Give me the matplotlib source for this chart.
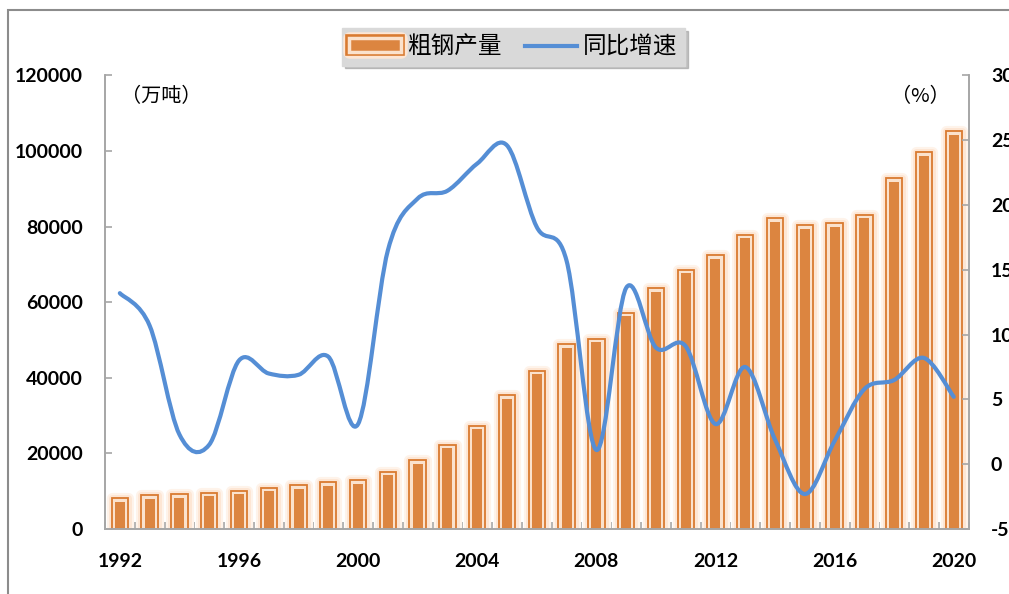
import matplotlib
matplotlib.use("Agg")
import matplotlib.pyplot as plt
import matplotlib.patheffects as pe
from matplotlib.path import Path
from matplotlib.patches import PathPatch, Rectangle
from matplotlib.lines import Line2D
from matplotlib.transforms import ScaledTranslation
import numpy as np

# 数据：粗钢产量（万吨）与同比增速（%）
years = list(range(1992, 2021))
production = [8094, 8956, 9261, 9536, 10124, 10894, 11559, 12426, 12850, 15163,
              18237, 22234, 27280, 35324, 41915, 48929, 50306, 57218, 63723, 68528,
              72388, 77904, 82270, 80383, 80837, 83173, 92826, 99634, 105300]
growth = [13.2, 10.7, 2.3, 1.5, 8.0, 7.0, 6.9, 8.3, 3.1, 16.5,
          20.5, 21.1, 23.2, 24.6, 18.3, 15.7, 1.1, 13.6, 9.0, 9.1,
          3.1, 7.5, 1.9, -2.3, 1.8, 5.8, 6.5, 8.2, 5.2]
left_ticks = [0, 20000, 40000, 60000, 80000, 100000, 120000]
right_ticks = [-5, 0, 5, 10, 15, 20, 25, 30]
label_years = [1992, 1996, 2000, 2004, 2008, 2012, 2016, 2020]

cjk = ['Noto Sans CJK SC', 'DejaVu Sans']
num_font = 'Lato'
bar_color = '#dc8540'
edge_dark = '#d97a30'
border_light = '#fbe2cd'
line_color = '#558ed5'
axis_color = '#a6a6a6'

fig = plt.figure(figsize=(10.09, 5.94), dpi=100)
ax = fig.add_axes([0.104, 0.1094, 0.856, 0.7636])
ax2 = ax.twinx()

# 柱子：外发光 + 深色描边 + 浅色内边 + 深色填充
glow = [
    pe.Stroke(linewidth=8, foreground='#fef3ea', joinstyle='round'),
    pe.Stroke(linewidth=5, foreground='#fde6d4', joinstyle='round'),
    pe.Normal(),
]
x = np.array(years, dtype=float)
ax.bar(x, production, width=0.55, color=border_light, edgecolor=edge_dark,
       linewidth=1.3, path_effects=glow, zorder=2)
inset = ax.transData + ScaledTranslation(0, -3.5 / 100, fig.dpi_scale_trans)
ax.bar(x, production, width=0.335, color=bar_color, linewidth=0,
       transform=inset, zorder=2.1)

ax.set_xlim(1991.5, 2020.5)
ax.set_ylim(0, 120000)
ax2.set_ylim(-5, 30)

# 平滑曲线（类似 Excel 平滑线）
pts = np.column_stack([x, growth])
verts = [pts[0]]
codes = [Path.MOVETO]
n = len(pts)
for i in range(n - 1):
    p0 = pts[max(i - 1, 0)]
    p1 = pts[i]
    p2 = pts[i + 1]
    p3 = pts[min(i + 2, n - 1)]
    c1 = p1 + (p2 - p0) / 6.0
    c2 = p2 - (p3 - p1) / 6.0
    verts += [c1, c2, p2]
    codes += [Path.CURVE4] * 3
curve = PathPatch(Path(verts, codes), facecolor='none', edgecolor=line_color,
                  linewidth=3, capstyle='round', joinstyle='round', zorder=3)
ax2.add_patch(curve)

# 坐标轴样式
for a in (ax, ax2):
    a.spines['top'].set_visible(False)
    for s in ('left', 'right', 'bottom'):
        a.spines[s].set_color(axis_color)
        a.spines[s].set_linewidth(1.2)

ax.set_yticks(left_ticks)
ax.set_yticklabels([str(v) for v in left_ticks])
ax2.set_yticks(right_ticks)
ax2.set_yticklabels([str(v) for v in right_ticks])
ax.set_xticks(label_years)
ax.set_xticklabels([str(v) for v in label_years])
ax.set_xticks(np.arange(1991.5, 2021, 1.0), minor=True)

ax.tick_params(axis='x', which='major', length=0, pad=17)
ax.tick_params(axis='x', which='minor', direction='in', length=5,
               color=axis_color, width=1.2)
ax.tick_params(axis='y', direction='in', length=5, color=axis_color,
               width=1.2, pad=16)
ax2.tick_params(axis='y', direction='in', length=5, color=axis_color,
                width=1.2, pad=16)

for lab in ax.get_xticklabels() + ax.get_yticklabels() + ax2.get_yticklabels():
    lab.set_fontfamily(num_font)
    lab.set_fontweight('bold')
    lab.set_fontsize(14)
    lab.set_color('black')

# 单位
ax.text(0.019, 0.953, '（万吨）', transform=ax.transAxes, family=cjk,
        fontsize=14.5, va='center', ha='left')
ax.text(0.91, 0.953, '（%）', transform=ax.transAxes, family=cjk,
        fontsize=14.5, va='center', ha='left')

# 图例
handle_fx = [
    pe.Stroke(linewidth=9, foreground='#fde6d4', joinstyle='round'),
    pe.Stroke(linewidth=5.5, foreground=edge_dark),
    pe.Normal(),
]
bar_handle = Rectangle((0, 0), 1, 1, facecolor=bar_color, edgecolor=border_light,
                       linewidth=2.5, path_effects=handle_fx)
line_handle = Line2D([], [], color=line_color, linewidth=3)
leg = fig.legend([bar_handle, line_handle], ['粗钢产量', '同比增速'],
                 loc='center', bbox_to_anchor=(0.509, 0.921), ncol=2,
                 prop={'family': cjk, 'size': 17}, frameon=True,
                 fancybox=False, shadow={'color': '#9a9a9a', 'alpha': 0.6},
                 handlelength=2.2, handleheight=0.55, columnspacing=1.0,
                 handletextpad=0.25, borderpad=0.3, borderaxespad=0)
leg.get_frame().set_facecolor('#d9d9d9')
leg.get_frame().set_edgecolor('#d9d9d9')
leg.get_frame().set_alpha(1)

# 图表区外框
fig.patches.append(Rectangle((8 / 1009, -0.1), 1.2, 0.1 + 1 - 10 / 594,
                             transform=fig.transFigure, fill=False,
                             edgecolor='#8c8c8c', linewidth=1.5))

fig.savefig('out.png', dpi=100)
